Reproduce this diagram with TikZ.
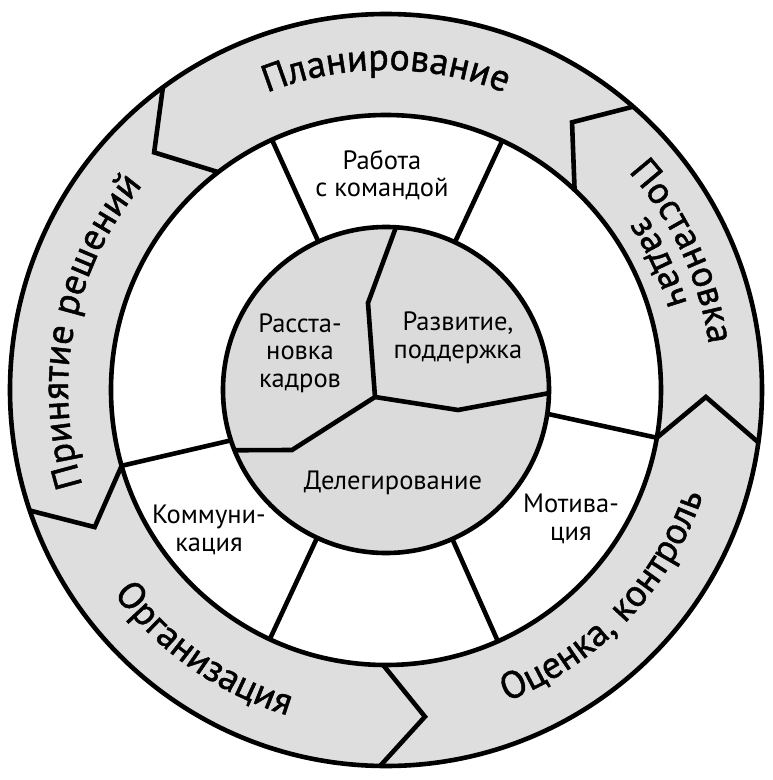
\documentclass[tikz,border=0pt]{standalone}
\usepackage{fontspec}
\setmainfont{PT Sans}
\newfontfamily\bandfamily[FakeBold=1.2]{PT Sans}
\usetikzlibrary{decorations.text}
\definecolor{bandgray}{gray}{0.87}
\definecolor{coregray}{gray}{0.86}
\newcommand{\bandfont}{\bandfamily\fontsize{38}{44}\selectfont}
\tikzset{
  rim/.style={line width=4.6pt, black},
  inlabel/.style={align=center, inner sep=0pt, font=\fontsize{26.5}{27.5}\selectfont},
}

\begin{document}
\begin{tikzpicture}[x=1pt,y=1pt]
  \useasboundingbox (-386,-390) rectangle (386,390);
  % rings
  \fill[bandgray] (0,0) circle (376);
  \fill[white] (0,0) circle (275);
  \fill[coregray] (0,0) circle (163);
  \draw[rim] (0,0) circle (376);
  \draw[rim] (0,0) circle (275);
  \draw[rim] (0,0) circle (163);
  % arrow joints in the band: outer/tip/tip radius/inner
  \foreach \o/\v/\r/\i in {-90.9/-83.2/329/-90.6, -8/-1.25/320/-10, 48.9/55.2/326/46.7,
                           126.4/134.3/332/127.6, 198.7/205.2/322/196}
    \draw[rim] (\o:376) -- (\v:\r) -- (\i:275);
  % spokes of the white ring
  \foreach \a in {65,114.5,245,294}
    \draw[rim] (\a:163) -- (\a:275);
  \draw[rim] (198:163) -- (196:275);
  \draw[rim] (-8.4:163) -- (-10:275);
  % core split
  \coordinate (hub) at (-11,-7);
  \draw[rim] (86.5:163) -- (-18,87) -- (hub);
  \draw[rim] (hub) -- (72,-20) -- (-1.1:163);
  \draw[rim] (hub) -- (-94,-60) -- (201.7:163);
  % band texts
  \path[decorate, decoration={text along path, text align=center,
      text={|\bandfont|Планирование}}] (135:320) arc[start angle=135, end angle=45, radius=320];
  \path[decorate, decoration={text along path, text align=center,
      text={|\bandfont|Принятие решений}}] (218.7:318) arc[start angle=218.7, end angle=118.7, radius=318];
  \path[decorate, decoration={text along path, text align=center,
      text={|\bandfont|Постановка}}] (60:326) arc[start angle=60, end angle=-10, radius=326];
  \path[decorate, decoration={text along path, text align=center,
      text={|\bandfont|задач}}] (60:294) arc[start angle=60, end angle=-10, radius=294];
  \path[decorate, decoration={text along path, text align=center,
      text={|\bandfont|Оценка, контроль}}] (-93.6:334) arc[start angle=-93.6, end angle=6.4, radius=334];
  \path[decorate, decoration={text along path, text align=center,
      text={|\bandfont|Организация}}] (195:340) arc[start angle=195, end angle=275, radius=340];
  % inner texts
  \node[inlabel] (rabota) at (-4,215) {Работа\\с командой};
  \node[inlabel] (kommun) at (-177,-140) {Коммуни-\\кация};
  \node[inlabel] (motiv) at (185,-129) {Мотива-\\ция};
  \node[inlabel] (rasst) at (-86,37) {Расста-\\новка\\кадров};
  \node[inlabel] (razv) at (72,52) {Развитие,\\поддержка};
  \node[inlabel] (deleg) at (7,-93) {Делегирование};
\end{tikzpicture}
\end{document}
